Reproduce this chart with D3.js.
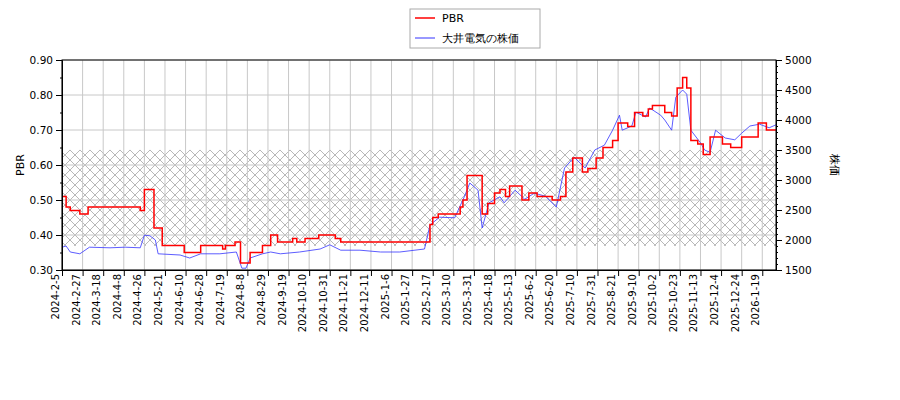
<!DOCTYPE html>
<html><head><meta charset="utf-8">
<script src="https://cdn.jsdelivr.net/npm/d3@7"></script>
<style>body{margin:0;background:#fff}text{font-family:"DejaVu Sans",sans-serif}</style>
</head><body><svg id="c" width="900" height="400"></svg>
<script>
const tickLabels=["2024-2-5","2024-2-27","2024-3-18","2024-4-8","2024-4-26","2024-5-21","2024-6-10","2024-6-28","2024-7-19","2024-8-8","2024-8-29","2024-9-19","2024-10-10","2024-10-31","2024-11-21","2024-12-11","2025-1-6","2025-1-27","2025-2-17","2025-3-10","2025-3-31","2025-4-18","2025-5-13","2025-6-2","2025-6-20","2025-7-10","2025-7-31","2025-8-21","2025-9-10","2025-10-2","2025-10-23","2025-11-13","2025-12-4","2025-12-24","2026-1-19"];
const tickStep=15, lastIndex=520;
const pbrIdx=[0,3,6,13,19,57,60,67,73,89,101,117,119,126,130,137,146,152,157,168,171,177,187,199,203,268,270,274,290,292,295,306,310,315,319,323,326,335,340,346,357,363,367,372,379,383,389,394,401,405,412,417,423,427,430,439,444,448,452,455,458,463,467,472,481,487,495,507,513];
const pbrVal=[.51,.48,.47,.46,.48,.47,.53,.42,.37,.35,.37,.36,.37,.38,.32,.35,.37,.40,.38,.39,.38,.39,.40,.39,.38,.43,.45,.46,.48,.50,.57,.46,.49,.52,.53,.51,.54,.50,.52,.51,.50,.51,.58,.62,.58,.59,.62,.65,.67,.72,.71,.75,.74,.76,.77,.75,.74,.82,.85,.82,.67,.66,.63,.68,.66,.65,.68,.72,.70];
const priceIdx=[0,3,6,13,20,35,46,57,60,64,68,70,86,93,101,115,127,131,134,137,146,152,159,173,188,195,203,217,232,246,264,268,275,286,293,297,303,306,311,319,322,330,337,344,352,360,366,373,381,388,395,401,406,408,415,418,425,428,436,439,444,447,452,455,458,465,468,472,476,483,490,495,501,508,515,520];
const priceVal=[1880,1900,1800,1770,1880,1870,1880,1870,2080,2070,2000,1770,1750,1700,1770,1770,1800,1530,1530,1700,1770,1800,1770,1800,1850,1920,1830,1830,1800,1800,1850,2250,2380,2370,2720,2950,2830,2200,2620,2720,2620,2830,2680,2780,2730,2550,3200,3380,3200,3500,3580,3830,4080,3830,3900,4130,4050,4200,4080,4000,3830,4380,4500,4430,3830,3620,3500,3460,3830,3700,3670,3780,3900,3930,3870,3920];
const bandLow=0.369, bandHigh=0.643;

const svg=d3.select("#c");
const L=62,R=776,T=60,B=270;
const x=d3.scaleLinear().domain([0,lastIndex]).range([L,R]);
const y=d3.scaleLinear().domain([0.3,0.9]).range([B,T]);
const y2=d3.scaleLinear().domain([1500,5000]).range([B,T]);

const defs=svg.append("defs");
const pat=defs.append("pattern").attr("id","hatch").attr("patternUnits","userSpaceOnUse").attr("width",10).attr("height",10);
pat.append("path").attr("d","M0,0L10,10M10,0L0,10").attr("stroke","#999").attr("stroke-width",0.7);
svg.append("rect").attr("x",L).attr("width",R-L).attr("y",y(bandHigh)).attr("height",y(bandLow)-y(bandHigh)).attr("fill","url(#hatch)");

const g=svg.append("g");
const tv=tickLabels.map((d,i)=>i*tickStep);
g.selectAll(".vg").data(tv).enter().append("line").attr("x1",d=>x(d)).attr("x2",d=>x(d)).attr("y1",T).attr("y2",B).attr("stroke","#c8c8c8");
g.selectAll(".hg").data(d3.range(0.3,0.91,0.1)).enter().append("line").attr("x1",L).attr("x2",R).attr("y1",d=>y(d)).attr("y2",d=>y(d)).attr("stroke","#c8c8c8");

const cl=svg.append("clipPath").attr("id","clip").append("rect").attr("x",L).attr("y",T).attr("width",R-L).attr("height",B-T);
const price=priceIdx.map((d,i)=>[d,priceVal[i]]);
svg.append("path").attr("clip-path","url(#clip)").datum(price).attr("fill","none").attr("stroke","#3333ff").attr("stroke-width",0.8)
 .attr("d",d3.line().x(d=>x(d[0])).y(d=>y2(d[1])));
const pbr=pbrIdx.map((d,i)=>[d,pbrVal[i]]); pbr.push([lastIndex,pbrVal[pbrVal.length-1]]);
svg.append("path").attr("clip-path","url(#clip)").datum(pbr).attr("fill","none").attr("stroke","#ff0000").attr("stroke-width",1.5)
 .attr("d",d3.line().curve(d3.curveStepAfter).x(d=>x(d[0])).y(d=>y(d[1])));

svg.append("rect").attr("x",L).attr("y",T).attr("width",R-L).attr("height",B-T).attr("fill","none").attr("stroke","#000");

const xa=svg.append("g").attr("transform",`translate(0,${B})`).call(d3.axisBottom(x).tickValues(tv).tickFormat((d,i)=>tickLabels[i]).tickSizeOuter(0));
xa.selectAll("text").attr("transform","rotate(-90)").attr("text-anchor","end").attr("x",-4).attr("y",-3.5).attr("dy","0").attr("font-size",10);
const ya=svg.append("g").attr("transform",`translate(${L},0)`).call(d3.axisLeft(y).tickValues(d3.range(0.3,0.91,0.1)).tickFormat(d3.format(".2f")).tickSizeOuter(0));
svg.append("g").attr("transform",`translate(${L},0)`).call(d3.axisLeft(y).tickValues(d3.range(0.35,0.9,0.1)).tickFormat("").tickSize(2).tickSizeOuter(0));
const ya2=svg.append("g").attr("transform",`translate(${R},0)`).call(d3.axisRight(y2).tickValues(d3.range(1500,5001,500)).tickSizeOuter(0).tickFormat(d3.format("d")));
svg.append("g").attr("transform",`translate(${R},0)`).call(d3.axisRight(y2).tickValues(d3.range(1600,5000,100).filter(v=>v%500)).tickFormat("").tickSize(2).tickSizeOuter(0));
svg.selectAll(".tick text").attr("font-size",10.5).attr("fill","#000");
xa.selectAll("text").attr("font-size",10);
svg.selectAll(".domain").attr("stroke","#000");

svg.append("text").attr("transform","translate(24,165) rotate(-90)").attr("text-anchor","middle").attr("font-size",11).text("PBR");
svg.append("text").attr("transform","translate(831,165) rotate(90)").attr("text-anchor","middle").attr("font-size",11).text("株価");

const lg=svg.append("g");
lg.append("rect").attr("x",410).attr("y",9).attr("width",130).attr("height",39).attr("fill","#fff").attr("stroke","#aaa");
lg.append("line").attr("x1",415).attr("x2",435).attr("y1",18).attr("y2",18).attr("stroke","#f00").attr("stroke-width",1.5);
lg.append("line").attr("x1",415).attr("x2",435).attr("y1",38).attr("y2",38).attr("stroke","#3333ff").attr("stroke-width",1);
lg.append("text").attr("x",442).attr("y",22).attr("font-size",11).text("PBR");
lg.append("text").attr("x",442).attr("y",42).attr("font-size",11).text("大井電気の株価");
</script></body></html>
